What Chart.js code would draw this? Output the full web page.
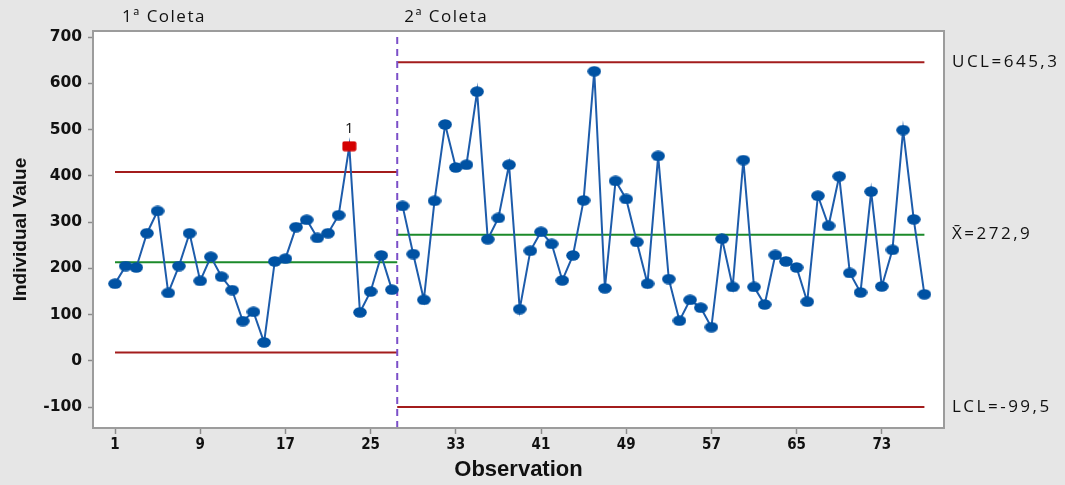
<!DOCTYPE html>
<html>
<head>
<meta charset="utf-8">
<script src="https://cdn.jsdelivr.net/npm/chart.js@4"></script>
<style>
  html, body { margin: 0; padding: 0; background: #e6e6e6; }
  #wrap { width: 1065px; height: 485px; }
</style>
</head>
<body>
<div id="wrap"><canvas id="chart" width="1065" height="485"></canvas></div>
<script>
// Dados (I-chart em dois estágios)
const coleta1 = [167, 205, 202, 276, 324, 147, 205, 276, 173, 225, 182, 153, 86, 106, 40,
  215, 221, 289, 305, 266, 276, 315, 464, 105, 150, 228, 154];
const coleta2 = [335, 231, 132, 346, 511, 418, 424, 582, 263, 309, 424, 112, 238, 279, 253,
  174, 228, 347, 626, 157, 389, 350, 257, 167, 443, 177, 87, 132, 115, 73,
  264, 160, 434, 160, 122, 229, 215, 202, 128, 357, 292, 399, 190, 148, 366,
  161, 240, 499, 306, 144];
const flagged = [23]; // observação fora de controle (teste 1)

// limites [UCL, média, LCL]
const limites1 = [408.4, 213.4, 18.4];
const limites2 = [645.3, 272.9, -99.5];
const rotulos2 = ["UCL=645,3", "X\u0304=272,9", "LCL=-99,5"];
const estagios = ["1ª Coleta", "2ª Coleta"];
const corte = 27.5; // divisão entre as coletas

const xTicks = [1, 9, 17, 25, 33, 41, 49, 57, 65, 73];
const yTicks = [-100, 0, 100, 200, 300, 400, 500, 600, 700];

const AZUL = "#1d5cab";
const PONTO = "#0052a3";
const VERMELHO = "#a31c1c";
const VERDE = "#1b8a2a";
const TEXTO = "#111111";

// marcadores (elipse azul e quadrado vermelho)
const makeMarker = (w, h, draw) => {
  const c = document.createElement("canvas");
  c.width = w; c.height = h;
  draw(c.getContext("2d"), w, h);
  return c;
};
const elipse = makeMarker(14, 11, (g, w, h) => {
  g.fillStyle = PONTO;
  g.beginPath();
  g.ellipse(w / 2, h / 2, 6.8, 5.2, 0, 0, Math.PI * 2);
  g.fill();
});
const quadrado = makeMarker(15, 11, (g, w, h) => {
  g.fillStyle = "#d40000";
  g.beginPath();
  g.roundRect(0.5, 0.5, w - 1, h - 1, 2);
  g.fill();
});

const pts1 = coleta1.map((v, i) => ({ x: i + 1, y: v }));
const pts2 = coleta2.map((v, i) => ({ x: i + 1 + coleta1.length, y: v }));
const nTotal = coleta1.length + coleta2.length;

const limitLine = (x0, x1, v, color) => ({
  type: "line",
  data: [{ x: x0, y: v }, { x: x1, y: v }],
  borderColor: color,
  borderWidth: 2,
  pointRadius: 0,
  order: 5,
});

const Y_MIN = -145, Y_MAX = 713;

const fundo = {
  id: "fundo",
  beforeDraw(chart) {
    const { ctx, chartArea: a } = chart;
    ctx.save();
    ctx.fillStyle = "#e6e6e6";
    ctx.fillRect(0, 0, chart.width, chart.height);
    ctx.fillStyle = "#ffffff";
    ctx.fillRect(a.left, a.top, a.right - a.left, a.bottom - a.top);
    ctx.restore();
  },
  afterDraw(chart) {
    const { ctx, chartArea: a, scales } = chart;
    const x = scales.x, y = scales.y;
    ctx.save();
    // moldura
    ctx.strokeStyle = "#9c9c9c";
    ctx.lineWidth = 2;
    ctx.strokeRect(a.left, a.top, a.right - a.left, a.bottom - a.top);

    // rótulos das coletas
    ctx.fillStyle = TEXTO;
    ctx.font = "17px 'Open Sans', sans-serif";
    ctx.letterSpacing = "1.5px";
    ctx.textBaseline = "middle";
    ctx.textAlign = "left";
    ctx.fillText(estagios[0], x.getPixelForValue(1) + 7, 17);
    ctx.fillText(estagios[1], x.getPixelForValue(corte) + 7, 17);

    // rótulos dos limites
    ctx.letterSpacing = "2.5px";
    limites2.forEach((v, i) => {
      ctx.fillText(rotulos2[i], a.right + 8, y.getPixelForValue(v));
    });

    // teste 1
    ctx.letterSpacing = "0px";
    ctx.font = "15px 'Open Sans', sans-serif";
    ctx.textAlign = "center";
    flagged.forEach((n) => {
      const v = n <= coleta1.length ? coleta1[n - 1] : coleta2[n - 1 - coleta1.length];
      ctx.fillText("1", x.getPixelForValue(n), y.getPixelForValue(v) - 17);
    });
    ctx.restore();
  },
};

new Chart(document.getElementById("chart"), {
  type: "line",
  plugins: [fundo],
  data: {
    datasets: [
      {
        data: pts1,
        borderColor: AZUL,
        borderWidth: 2,
        pointStyle: (c) => (flagged.includes(c.dataIndex + 1) ? quadrado : elipse),
        order: 1,
      },
      {
        data: pts2,
        borderColor: AZUL,
        borderWidth: 2,
        pointStyle: elipse,
        order: 1,
      },
      limitLine(1, corte, limites1[0], VERMELHO),
      limitLine(1, corte, limites1[1], VERDE),
      limitLine(1, corte, limites1[2], VERMELHO),
      limitLine(corte, nTotal, limites2[0], VERMELHO),
      limitLine(corte, nTotal, limites2[1], VERDE),
      limitLine(corte, nTotal, limites2[2], VERMELHO),
      {
        data: [{ x: corte, y: Y_MIN }, { x: corte, y: Y_MAX }],
        borderColor: "#7b4fc8",
        borderWidth: 2,
        borderDash: [7, 5],
        pointRadius: 0,
        order: 4,
      },
    ],
  },
  options: {
    responsive: false,
    animation: false,
    events: [],
    layout: { padding: { left: 0, top: 31, right: 121, bottom: 0 } },
    plugins: { legend: { display: false }, tooltip: { enabled: false } },
    scales: {
      x: {
        type: "linear",
        min: -1.066,
        max: 78.84,
        afterBuildTicks: (s) => { s.ticks = xTicks.map((v) => ({ value: v })); },
        afterFit: (s) => { s.height = 57; },
        grid: { drawOnChartArea: false, tickLength: 6, color: "#8c8c8c", tickWidth: 1.5 },
        border: { display: false },
        ticks: {
          color: TEXTO,
          font: { family: "'DejaVu Sans Condensed', 'DejaVu Sans', sans-serif", weight: "bold", size: 15 },
          padding: 2, maxRotation: 0, autoSkip: false,
        },
        title: {
          display: true,
          text: "Observation",
          color: TEXTO,
          font: { family: "'Liberation Sans', Arial, sans-serif", weight: "bold", size: 22 },
          padding: { top: 0, bottom: 2 },
        },
      },
      y: {
        min: Y_MIN,
        max: Y_MAX,
        afterBuildTicks: (s) => { s.ticks = yTicks.map((v) => ({ value: v })); },
        afterFit: (s) => { s.width = 93; },
        grid: { drawOnChartArea: false, tickLength: 5, color: "#8c8c8c", tickWidth: 1.5 },
        border: { display: false },
        ticks: {
          color: TEXTO,
          font: { family: "'DejaVu Sans', sans-serif", weight: "bold", size: 15.5 },
          padding: 6,
        },
        title: {
          display: true,
          text: "Individual Value",
          color: TEXTO,
          font: { family: "'Liberation Sans', Arial, sans-serif", weight: "bold", size: 19 },
          padding: { top: 9, bottom: 0 },
        },
      },
    },
  },
});
</script>
</body>
</html>
